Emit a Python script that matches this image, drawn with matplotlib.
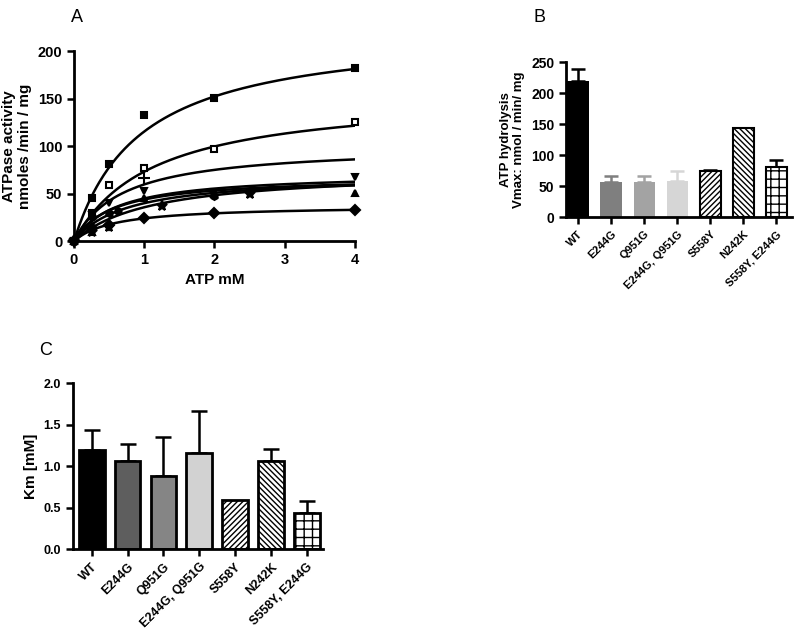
import matplotlib.pyplot as plt
import numpy as np

plt.rcParams['font.family'] = ['Liberation Sans', 'DejaVu Sans']
plt.rcParams['font.weight'] = 'bold'
plt.rcParams['hatch.linewidth'] = 1.0

# ========================== data ==========================
# Panel A: ATPase activity vs ATP concentration, one entry per construct
a_markers = ['s', 's', '+', 'v', '^', 'D', '*', 'h']
a_sizes = [5, 5, 9, 5, 5, 5, 8, 5]
a_filled = [True, False, True, True, True, True, True, True]
a_x = [
    [0, 0.25, 0.5, 1, 2, 4],
    [0, 0.25, 0.5, 1, 2, 4],
    [0, 1],
    [0, 0.25, 0.5, 1, 2, 4],
    [0, 0.25, 0.5, 1, 2, 4],
    [0, 0.25, 0.5, 1, 2, 4],
    [0, 0.25, 0.5, 1.25, 2.5],
    [0, 0.25, 0.5, 0.625, 2],
]
a_y = [
    [0, 45, 81, 133, 151, 182],
    [0, 30, 59, 77, 97, 125],
    [0, 67],
    [0, 28, 40, 53, 52, 68],
    [0, 10, 30, 45, 50, 51],
    [0, 14, 17, 24, 30, 33],
    [0, 10, 15, 37, 50],
    [0, 25, 30, 32, 48],
]
# Michaelis-Menten fit parameters
a_vmax = [224, 156, 101, 72, 70, 37.7, 75, 68]
a_km = [0.94, 1.13, 0.69, 0.6, 0.75, 0.57, 1.1, 0.55]

labels = ['WT', 'E244G', 'Q951G', 'E244G, Q951G', 'S558Y', 'N242K', 'S558Y, E244G']

# Panel B: Vmax
vmax = [220, 57, 56, 59, 74, 144, 81]
vmax_err = [18, 9, 10, 15, 2, 0, 11]

# Panel C: Km
km = [1.19, 1.06, 0.88, 1.16, 0.59, 1.06, 0.43]
km_err = [0.25, 0.21, 0.47, 0.50, 0.0, 0.14, 0.15]

b_colors = ['black', '#7f7f7f', '#a3a3a3', '#d6d6d6', 'white', 'white', 'white']
c_colors = ['black', '#5e5e5e', '#858585', '#d2d2d2', 'white', 'white', 'white']
hatches = [None, None, None, None, '//////', '\\\\\\\\\\\\', '++']


def style_axes(ax, size=9):
    for s in ['top', 'right']:
        ax.spines[s].set_visible(False)
    for s in ['left', 'bottom']:
        ax.spines[s].set_linewidth(2)
    ax.tick_params(width=1.8, length=5, labelsize=size, direction='out')
    for t in ax.get_xticklabels() + ax.get_yticklabels():
        t.set_fontweight('bold')


fig = plt.figure(figsize=(8, 6.33), dpi=100)

# ========================== A ==========================
axA = fig.add_axes([0.0925, 0.619, 0.351, 0.300])
xs = np.linspace(0, 4, 200)
for i in range(len(a_vmax)):
    axA.plot(xs, a_vmax[i] * xs / (a_km[i] + xs), color='black', lw=1.8)
    fc = 'black' if a_filled[i] else 'white'
    axA.plot(a_x[i], a_y[i], linestyle='none', marker=a_markers[i], ms=a_sizes[i],
             mfc=fc, mec='black', mew=1.5, clip_on=False, zorder=3)
axA.set_xlim(0, 4)
axA.set_ylim(0, 200)
axA.set_xticks([0, 1, 2, 3, 4])
axA.set_yticks([0, 50, 100, 150, 200])
style_axes(axA, 10.5)
axA.set_xlabel('ATP mM', fontsize=11, fontweight='bold')
axA.set_ylabel('ATPase activity\nnmoles /min / mg', fontsize=11, fontweight='bold')
fig.text(0.096, 0.972, 'A', fontsize=13, fontweight='normal', ha='center', va='center')

# ========================== B ==========================
axB = fig.add_axes([0.7075, 0.657, 0.2825, 0.245])
pos = np.arange(len(labels))
for i in range(len(labels)):
    hatched = hatches[i] is not None
    ec = 'black' if hatched else b_colors[i]
    ecol = 'black' if (hatched or i == 0) else b_colors[i]
    axB.bar(pos[i], vmax[i], width=0.64, color=b_colors[i], edgecolor=ec,
            linewidth=1.5 if hatched else 0, hatch=hatches[i], zorder=2)
    if vmax_err[i] > 0:
        axB.errorbar(pos[i], vmax[i], yerr=[[0], [vmax_err[i]]], fmt='none',
                     ecolor=ecol, elinewidth=1.8, capsize=5, capthick=1.8, zorder=1)
axB.set_xlim(-0.36, 6.47)
axB.set_ylim(0, 250)
axB.set_yticks([0, 50, 100, 150, 200, 250])
axB.set_xticks(pos)
axB.set_xticklabels(labels, rotation=45, ha='right', rotation_mode='anchor')
style_axes(axB, 10)
axB.tick_params(axis='x', labelsize=8)
axB.set_ylabel('ATP hydrolysis\nVmax: nmol / min/ mg', fontsize=9.5, fontweight='bold')
fig.text(0.674, 0.972, 'B', fontsize=13, fontweight='normal', ha='center', va='center')

# ========================== C ==========================
axC = fig.add_axes([0.091, 0.1327, 0.3125, 0.262])
for i in range(len(labels)):
    axC.bar(pos[i], km[i], width=0.72, color=c_colors[i], edgecolor='black',
            linewidth=2, hatch=hatches[i], zorder=2)
    if km_err[i] > 0:
        axC.errorbar(pos[i], km[i], yerr=[[0], [km_err[i]]], fmt='none',
                     ecolor='black', elinewidth=1.8, capsize=6, capthick=1.8, zorder=1)
axC.set_xlim(-0.53, 6.45)
axC.set_ylim(0, 2.0)
axC.set_yticks([0, 0.5, 1.0, 1.5, 2.0])
axC.set_yticklabels(['0.0', '0.5', '1.0', '1.5', '2.0'])
axC.set_xticks(pos)
axC.set_xticklabels(labels, rotation=45, ha='right', rotation_mode='anchor')
style_axes(axC, 9)
axC.set_ylabel('Km [mM]', fontsize=11, fontweight='bold')
fig.text(0.057, 0.447, 'C', fontsize=13, fontweight='normal', ha='center', va='center')

fig.savefig('out.png', dpi=100)
